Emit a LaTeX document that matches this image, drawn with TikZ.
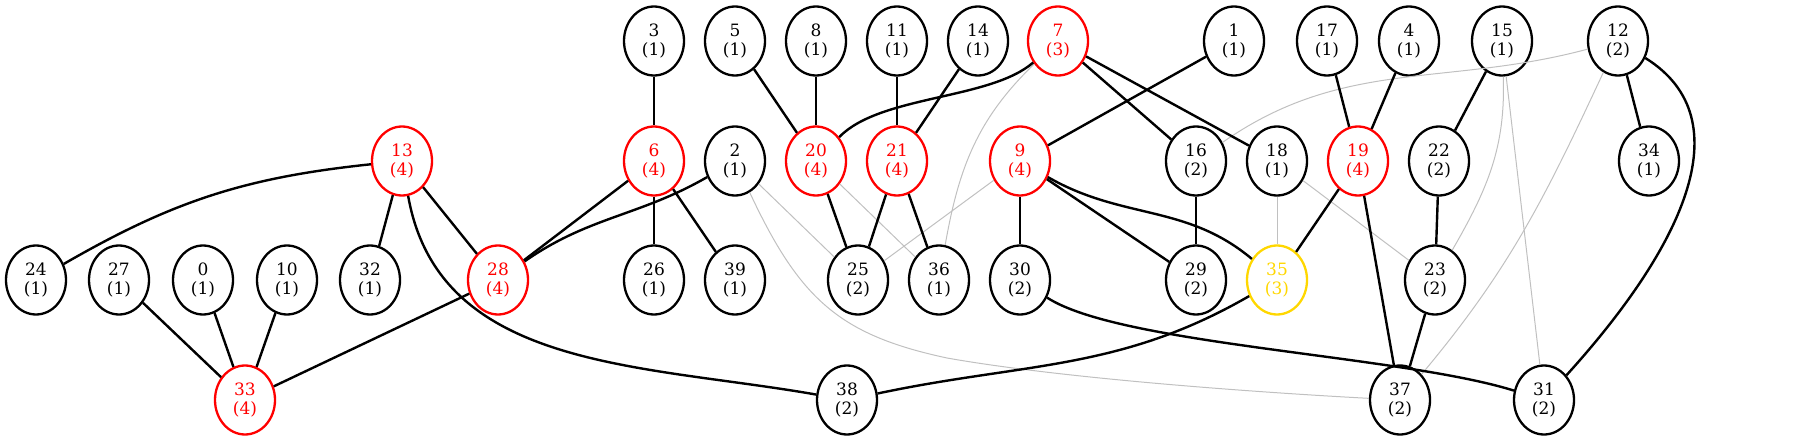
\documentclass[tikz,border=0pt]{standalone}
\usepackage{fontspec}
\setmainfont{DejaVu Serif}
\usetikzlibrary{shapes.geometric}
\definecolor{gold}{HTML}{FFD700}
\definecolor{edgegray}{HTML}{C0C0C0}
\begin{document}
\begin{tikzpicture}[x=1pt, y=1pt,
	vtx/.style={ellipse, draw, line width=2.3pt, minimum width=60pt, minimum height=69pt,
		inner sep=0pt, align=center, font=\fontsize{17}{18.5}\selectfont},
	hot/.style={vtx, draw=red, text=red},
	warm/.style={vtx, draw=gold, text=gold},
	link/.style={line width=2.4pt},
	weak/.style={line width=1pt, color=edgegray}]
	
	\useasboundingbox (0,0) rectangle (1797,-441);
	
	% top row
	\node[vtx] (v3) at (654,-41) {3\\(1)};
	\node[vtx] (v5) at (735,-41) {5\\(1)};
	\node[vtx] (v8) at (816,-41) {8\\(1)};
	\node[vtx] (v11) at (897,-41) {11\\(1)};
	\node[vtx] (v14) at (978,-41) {14\\(1)};
	\node[hot] (v7) at (1058,-41) {7\\(3)};
	\node[vtx] (v1) at (1234,-41) {1\\(1)};
	\node[vtx] (v17) at (1327,-41) {17\\(1)};
	\node[vtx] (v4) at (1409,-41) {4\\(1)};
	\node[vtx] (v15) at (1502,-41) {15\\(1)};
	\node[vtx] (v12) at (1618,-41) {12\\(2)};
	
	% second row
	\node[hot] (v13) at (402,-161) {13\\(4)};
	\node[hot] (v6) at (654,-161) {6\\(4)};
	\node[vtx] (v2) at (735,-161) {2\\(1)};
	\node[hot] (v20) at (816,-161) {20\\(4)};
	\node[hot] (v21) at (897,-161) {21\\(4)};
	\node[hot] (v9) at (1020,-161) {9\\(4)};
	\node[vtx] (v16) at (1196,-161) {16\\(2)};
	\node[vtx] (v18) at (1277,-161) {18\\(1)};
	\node[hot] (v19) at (1358,-161) {19\\(4)};
	\node[vtx] (v22) at (1439,-161) {22\\(2)};
	\node[vtx] (v34) at (1649,-161) {34\\(1)};
	
	% third row
	\node[vtx] (v24) at (36,-280) {24\\(1)};
	\node[vtx] (v27) at (119,-280) {27\\(1)};
	\node[vtx] (v0) at (203,-280) {0\\(1)};
	\node[vtx] (v10) at (287,-280) {10\\(1)};
	\node[vtx] (v32) at (370,-280) {32\\(1)};
	\node[hot] (v28) at (498,-280) {28\\(4)};
	\node[vtx] (v26) at (654,-280) {26\\(1)};
	\node[vtx] (v39) at (735,-280) {39\\(1)};
	\node[vtx] (v25) at (858,-280) {25\\(2)};
	\node[vtx] (v36) at (939,-280) {36\\(1)};
	\node[vtx] (v30) at (1020,-280) {30\\(2)};
	\node[vtx] (v29) at (1196,-280) {29\\(2)};
	\node[warm] (v35) at (1277,-280) {35\\(3)};
	\node[vtx] (v23) at (1435,-280) {23\\(2)};
	
	% bottom row
	\node[hot] (v33) at (245,-400) {33\\(4)};
	\node[vtx] (v38) at (847,-400) {38\\(2)};
	\node[vtx] (v37) at (1400,-400) {37\\(2)};
	\node[vtx] (v31) at (1544,-400) {31\\(2)};
	
	% faint links
	\draw[weak] (v2) -- (v25);
	\draw[weak] (v20) -- (v36);
	\draw[weak] (v9) -- (v25);
	\draw[weak] (v18) -- (v35);
	\draw[weak] (v18) -- (v23);
	\draw[weak] (v15) -- (v31);
	\draw[weak] (v7) to[out=224, in=80] (v36);
	\draw[weak] (v12) to[out=195, in=35] (v16);
	\draw[weak] (v15) to[out=-88, in=60] (v23);
	\draw[weak] (v12) to[out=-115, in=50] (v37);
	\draw[weak] (v2) .. controls (800,-300) and (840,-335) .. (947,-358)
		.. controls (1060,-378) and (1250,-392) .. (v37);
	
	% left cluster
	\draw[link] (v13) to[out=186, in=30] (v24);
	\draw[link] (v13) -- (v32);
	\draw[link] (v13) -- (v28);
	\draw[link] (v13) to[out=-80, in=170] (v38);
	\draw[link] (v27) -- (v33);
	\draw[link] (v0) -- (v33);
	\draw[link] (v10) -- (v33);
	\draw[link] (v28) -- (v33);
	
	% middle cluster
	\draw[link] (v3) -- (v6);
	\draw[link] (v6) -- (v28);
	\draw[link] (v6) -- (v26);
	\draw[link] (v6) -- (v39);
	\draw[link] (v2) to[out=210, in=35] (v28);
	\draw[link] (v5) -- (v20);
	\draw[link] (v8) -- (v20);
	\draw[link] (v7) .. controls (990,-100) and (880,-95) .. (v20);
	\draw[link] (v11) -- (v21);
	\draw[link] (v14) -- (v21);
	\draw[link] (v20) -- (v25);
	\draw[link] (v21) -- (v25);
	\draw[link] (v21) -- (v36);
	
	% right cluster
	\draw[link] (v7) -- (v16);
	\draw[link] (v7) -- (v18);
	\draw[link] (v1) -- (v9);
	\draw[link] (v9) -- (v30);
	\draw[link] (v9) -- (v29);
	\draw[link] (v9) to[out=-30, in=140] (v35);
	\draw[link] (v16) -- (v29);
	\draw[link] (v17) -- (v19);
	\draw[link] (v4) -- (v19);
	\draw[link] (v19) -- (v35);
	\draw[link] (v19) -- (v37);
	\draw[link] (v15) -- (v22);
	\draw[link] (v22) -- (v23);
	\draw[link] (v23) -- (v37);
	\draw[link] (v12) -- (v34);
	\draw[link] (v12) .. controls (1745,-120) and (1680,-250) .. (v31);
	\draw[link] (v30) .. controls (1120,-345) and (1400,-355) .. (v31);
	\draw[link] (v35) to[out=210, in=12] (v38);
	
\end{tikzpicture}
\end{document}
